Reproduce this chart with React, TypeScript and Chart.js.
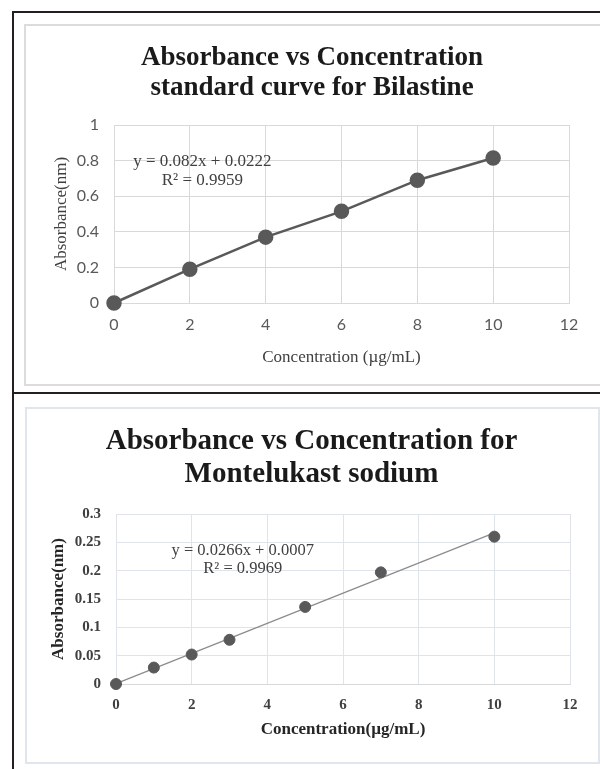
import React, { useEffect, useRef } from "react";
import { Chart, registerables } from "chart.js";

Chart.register(...registerables);

// ---- Bilastine data ----
const bilTitle = ["Absorbance vs Concentration", "standard curve for Bilastine"];
const bilConc = [0, 2, 4, 6, 8, 10];
const bilAbs = [0, 0.19, 0.37, 0.515, 0.69, 0.815];
const bilEquation = ["y = 0.082x + 0.0222", "R² = 0.9959"];
const bilEqAnchor = [2.33, 0.792];
const bilXLabel = "Concentration (µg/mL)";
const bilYLabel = "Absorbance(nm)";

// ---- Montelukast data ----
const monTitle = ["Absorbance vs Concentration for", "Montelukast sodium"];
const monConc = [0, 1, 2, 3, 5, 7, 10];
const monAbs = [0, 0.029, 0.052, 0.078, 0.136, 0.197, 0.26];
const monTrendX = [0, 10];
const monTrendY = [0.0007, 0.2667];
const monEquation = ["y = 0.0266x + 0.0007", "R² = 0.9969"];
const monEqAnchor = [3.35, 0.2347];
const monXLabel = "Concentration(µg/mL)";
const monYLabel = "Absorbance(nm)";

const SERIF = "'Liberation Serif', 'Times New Roman', serif";
const SANS = "Lato, 'Liberation Sans', sans-serif";

const fmt = (v: any) => String(+Number(v).toFixed(3));

const eqPlugin = {
  id: "eqLabel",
  afterDatasetsDraw(chart: any, _args: any, opts: any) {
    if (!opts || !opts.lines) return;
    const { ctx } = chart;
    const cx = chart.scales.x.getPixelForValue(opts.anchor[0]);
    const cy = chart.scales.y.getPixelForValue(opts.anchor[1]);
    ctx.save();
    ctx.font = opts.font;
    ctx.fillStyle = opts.color;
    ctx.textAlign = "center";
    ctx.textBaseline = "middle";
    opts.lines.forEach((t: string, i: number) => {
      ctx.fillText(t, cx, cy + i * opts.gap);
    });
    ctx.restore();
  },
};

const headPlugin = {
  id: "headText",
  afterDraw(chart: any, _args: any, opts: any) {
    if (!opts || !opts.lines) return;
    const { ctx } = chart;
    ctx.save();
    ctx.font = opts.font;
    ctx.fillStyle = opts.color;
    ctx.textAlign = "center";
    ctx.textBaseline = "middle";
    opts.lines.forEach((t: string, i: number) => {
      ctx.fillText(t, chart.width / 2, opts.top + i * opts.gap);
    });
    ctx.restore();
  },
};

function BilChart() {
  const ref = useRef<HTMLCanvasElement>(null);
  useEffect(() => {
    const chart = new Chart(ref.current!, {
      type: "scatter",
      data: {
        datasets: [
          {
            data: bilConc.map((x, i) => ({ x, y: bilAbs[i] })),
            showLine: true,
            borderColor: "#595959",
            borderWidth: 2.5,
            backgroundColor: "#595959",
            pointBackgroundColor: "#595959",
            pointBorderColor: "#595959",
            pointRadius: 6.5,
            clip: false,
          } as any,
        ],
      },
      options: {
        animation: false,
        responsive: false,
        layout: { padding: { top: 99, left: 0, right: 29, bottom: 0 } },
        plugins: {
          legend: { display: false },
          tooltip: { enabled: false },
          title: { display: false },
          headText: {
            lines: bilTitle,
            font: `bold 27px ${SERIF}`,
            color: "#1a1a1a",
            top: 32,
            gap: 30,
          },
          eqLabel: {
            lines: bilEquation,
            anchor: bilEqAnchor,
            font: `17px ${SERIF}`,
            color: "#404040",
            gap: 19,
          },
        } as any,
        scales: {
          x: {
            type: "linear",
            min: 0,
            max: 12,
            ticks: { stepSize: 2, color: "#595959", font: { family: SANS, size: 16 }, padding: 12.4, callback: fmt },
            grid: { color: "#d9d9d9", drawTicks: false },
            border: { color: "#d9d9d9" },
            title: {
              display: true,
              text: bilXLabel,
              color: "#404040",
              font: { family: SERIF, size: 17 },
              padding: { top: 0, bottom: 13.8 },
            },
            afterFit: (s: any) => {
              s.height = 79;
            },
          },
          y: {
            type: "linear",
            min: 0,
            max: 1,
            ticks: { stepSize: 0.2, color: "#595959", font: { family: SANS, size: 16 }, padding: 15, callback: fmt },
            grid: { color: "#d9d9d9", drawTicks: false },
            border: { display: false },
            title: {
              display: true,
              text: bilYLabel,
              color: "#404040",
              font: { family: SERIF, size: 17 },
              padding: { top: 25.8, bottom: 0 },
            },
            afterFit: (s: any) => {
              s.width = 88;
            },
          },
        },
      },
      plugins: [eqPlugin, headPlugin],
    } as any);
    return () => chart.destroy();
  }, []);
  return <canvas ref={ref} width={572} height={356} style={{ position: "absolute", left: 26, top: 26, width: 572, height: 356 }} />;
}

function MonChart() {
  const ref = useRef<HTMLCanvasElement>(null);
  useEffect(() => {
    const chart = new Chart(ref.current!, {
      type: "scatter",
      data: {
        datasets: [
          {
            data: monConc.map((x, i) => ({ x, y: monAbs[i] })),
            showLine: false,
            backgroundColor: "#595959",
            pointBackgroundColor: "#595959",
            pointBorderColor: "#595959",
            pointRadius: 5.5,
            clip: false,
          } as any,
          {
            data: monTrendX.map((x, i) => ({ x, y: monTrendY[i] })),
            showLine: true,
            borderColor: "#8c8c8c",
            borderWidth: 1.3,
            pointRadius: 0,
            clip: false,
          } as any,
        ],
      },
      options: {
        animation: false,
        responsive: false,
        layout: { padding: { top: 105, left: 0, right: 26, bottom: 0 } },
        plugins: {
          legend: { display: false },
          tooltip: { enabled: false },
          title: { display: false },
          headText: {
            lines: monTitle,
            font: `bold 29px ${SERIF}`,
            color: "#1a1a1a",
            top: 33,
            gap: 33,
          },
          eqLabel: {
            lines: monEquation,
            anchor: monEqAnchor,
            font: `16.5px ${SERIF}`,
            color: "#404040",
            gap: 18,
          },
        } as any,
        scales: {
          x: {
            type: "linear",
            min: 0,
            max: 12,
            ticks: { stepSize: 2, color: "#404040", font: { family: SERIF, size: 15, weight: "bold" }, padding: 12, callback: fmt },
            grid: { color: "#dfe4ea", drawTicks: false },
            border: { color: "#d9d9d9" },
            title: {
              display: true,
              text: monXLabel,
              color: "#262626",
              font: { family: SERIF, size: 17, weight: "bold" },
              padding: { top: 0, bottom: 19.8 },
            },
            afterFit: (s: any) => {
              s.height = 76;
            },
          },
          y: {
            type: "linear",
            min: 0,
            max: 0.3,
            ticks: { stepSize: 0.05, color: "#404040", font: { family: SERIF, size: 15, weight: "bold" }, padding: 15, callback: fmt },
            grid: { color: "#dfe4ea", drawTicks: false },
            border: { display: false },
            title: {
              display: true,
              text: monYLabel,
              color: "#262626",
              font: { family: SERIF, size: 17, weight: "bold" },
              padding: { top: 21.8, bottom: 0 },
            },
            afterFit: (s: any) => {
              s.width = 89;
            },
          },
        },
      },
      plugins: [eqPlugin, headPlugin],
    } as any);
    return () => chart.destroy();
  }, []);
  return <canvas ref={ref} width={569} height={351} style={{ position: "absolute", left: 27, top: 409, width: 569, height: 351 }} />;
}

export default function App() {
  return (
    <div style={{ position: "absolute", left: 0, top: 0, width: 600, height: 769, background: "#fff", overflow: "hidden" }}>
      {/* outer black frame */}
      <div style={{ position: "absolute", left: 12, top: 11, width: 588, height: 2, background: "#231f20" }} />
      <div style={{ position: "absolute", left: 12, top: 11, width: 2, height: 758, background: "#231f20" }} />
      <div style={{ position: "absolute", left: 12, top: 392, width: 588, height: 2, background: "#231f20" }} />
      {/* chart area borders */}
      <div style={{ position: "absolute", left: 24, top: 24, width: 574, height: 358, border: "2px solid #dcdcdc", boxSizing: "content-box" }} />
      <div style={{ position: "absolute", left: 25, top: 407, width: 571, height: 353, border: "2px solid #e1e6ed", boxSizing: "content-box" }} />
      <BilChart />
      <MonChart />
    </div>
  );
}
